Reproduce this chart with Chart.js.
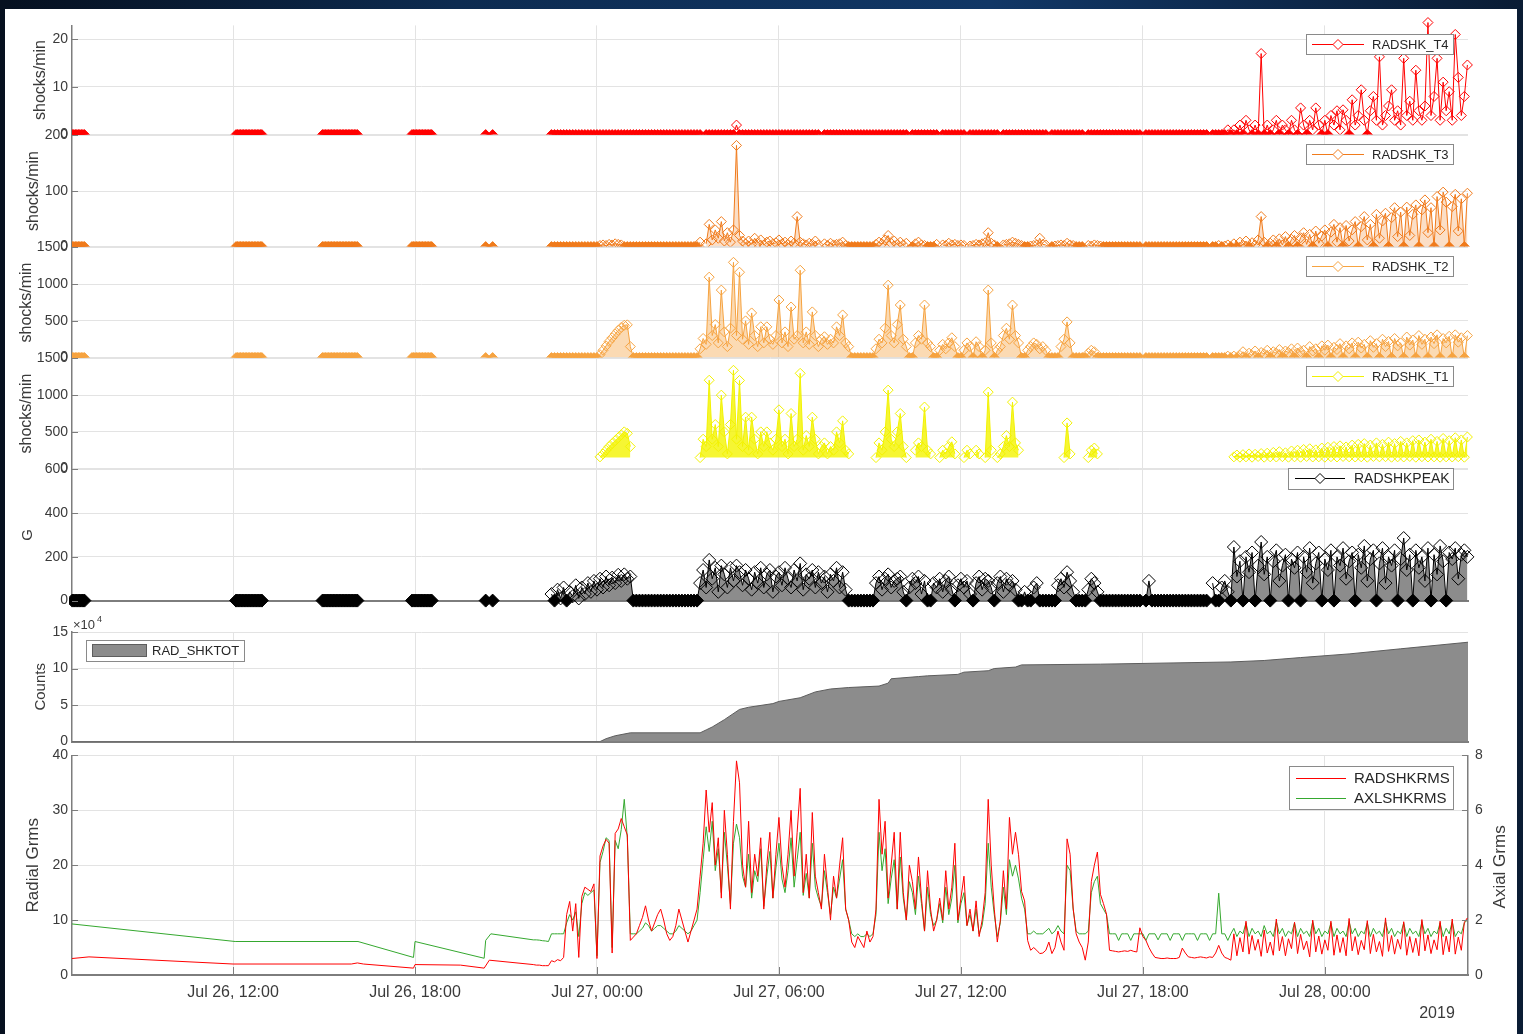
<!DOCTYPE html>
<html>
<head>
<meta charset="utf-8">
<script src="https://cdn.jsdelivr.net/npm/chart.js@4.4.0/dist/chart.umd.min.js"></script>
<style>
  html, body { margin: 0; padding: 0; width: 1523px; height: 1034px; overflow: hidden;
    background: linear-gradient(to right, #06101f 0%, #0d2b50 30%, #113766 65%, #0a1c34 100%); }
  #sheet { position: absolute; left: 5px; top: 9px; width: 1512px; height: 1025px; background: #fff; }
  canvas { position: absolute; left: 0; }
</style>
</head>
<body>
<div id="sheet"></div>
<canvas id="p1"></canvas>
<canvas id="p2"></canvas>
<canvas id="p3"></canvas>
<canvas id="p4"></canvas>
<canvas id="p5"></canvas>
<canvas id="p6"></canvas>
<canvas id="p7"></canvas>
<script>
const _ = null;

// time axis in hours counted from Jul 26, 00:00
const X_MIN = 6.69, X_MAX = 52.72;
const tickHours = [12, 18, 24, 30, 36, 42, 48];
const tickLabels = ['Jul 26, 12:00', 'Jul 26, 18:00', 'Jul 27, 00:00', 'Jul 27, 06:00',
                    'Jul 27, 12:00', 'Jul 27, 18:00', 'Jul 28, 00:00'];

const t4Ticks = [0, 10, 20];
const t3Ticks = [0, 100, 200];
const t2Ticks = [0, 500, 1000, 1500];
const t1Ticks = [0, 500, 1000, 1500];
const peakTicks = [0, 200, 400, 600];
const totTicks = [0, 50000, 100000, 150000];
const radTicks = [0, 10, 20, 30, 40];
const axlTicks = [0, 2, 4, 6, 8];

// short logging windows on Jul 26 where every shock channel reads zero
const idleRuns = [
  [6.7, 6.75, 6.8, 6.85, 6.9, 6.95, 7, 7.05, 7.1],
  [12.1, 12.15, 12.2, 12.25, 12.3, 12.35, 12.4, 12.45, 12.5, 12.55, 12.6, 12.65, 12.7, 12.75, 12.8, 12.85, 12.9, 12.95],
  [14.95, 15, 15.05, 15.1, 15.15, 15.2, 15.25, 15.3, 15.35, 15.4, 15.45, 15.5, 15.55, 15.6, 15.65, 15.7, 15.75, 15.8, 15.85, 15.9, 15.95, 16, 16.05, 16.1],
  [17.9, 17.95, 18, 18.05, 18.1, 18.15, 18.2, 18.25, 18.3, 18.35, 18.4, 18.45, 18.5, 18.55],
  [20.33, 20.56]
];

// continuous logging from 22:00 on, one sample every 0.1 h (one row per hour)
const GRID_START = 22.0, GRID_STEP = 0.1;

const t4Values = [
  _,_,_,_,_,0,0,0,0,0,
  0,0,0,0,0,0,0,0,0,0,
  0,0,0,0,0,0,0,0,0,0,
  0,0,0,0,0,0,0,0,0,0,
  0,0,0,0,0,0,0,0,0,0,
  0,0,0,0,0,_,0,0,0,0,
  0,0,0,0,0,0,2,0,0,0,
  0,0,0,0,0,0,0,0,0,0,
  0,0,0,0,0,0,0,0,0,0,
  0,0,0,0,_,0,0,0,0,0,
  0,0,0,0,0,0,0,0,0,0,
  0,0,0,0,0,0,0,0,0,0,
  0,0,0,_,0,0,0,0,0,0,
  0,0,0,_,0,0,0,0,0,0,
  0,0,_,0,0,0,0,0,0,0,
  0,0,0,_,0,0,0,0,0,0,
  0,0,0,0,0,0,0,0,0,_,
  0,0,0,0,0,0,0,0,0,0,
  0,_,0,0,0,0,0,0,0,0,
  0,0,0,0,0,0,0,0,0,0,
  _,0,0,0,0,0,0,0,0,0,
  0,0,0,0,0,0,0,0,0,0,
  0,0,_,0,0,0,0,0,1,0,
  1,0,2,0,3,1,0,2,0,17,
  0,2,0,1,3,0,2,1,0,3,
  1,0,5.6,2,0,3,1,5.6,2,0,
  3,0,4,2,5,1,5.2,3,0,7.3,
  2,4,9.4,3,0,5,8,3,16.3,2,
  4,6,9.4,3,5,2,16,4,7,3,
  13.5,5,3,6,23.5,4,8,16,3,11,
  5,9,3,21,12,4,8,14.6
];

const t3Values = [
  _,_,_,_,_,0,0,0,0,0,
  0,0,0,0,0,0,0,0,0,0,
  0,2,3,2,4,3,5,4,3,0,
  0,0,0,0,0,0,0,0,0,0,
  0,0,0,0,0,0,0,0,0,0,
  0,0,0,0,8,_,5,40,12,30,
  15,45,10,25,8,30,182,20,10,5,
  10,4,15,6,12,3,8,10,5,7,
  12,5,8,4,10,6,54,8,5,3,
  6,4,10,3,_,5,2,6,3,4,
  5,8,2,0,0,0,0,0,0,0,
  0,0,4,8,5,12,20,6,10,4,
  8,3,6,_,0,5,8,3,2,0,
  0,0,4,_,3,2,6,3,4,2,
  3,2,_,1,2,4,3,5,7,25,
  6,3,0,_,3,4,5,8,6,4,
  2,0,0,1,2,3,15,4,3,_,
  0,1,2,3,2,6,3,2,0,0,
  0,_,2,1,3,2,1,0,0,0,
  0,0,0,0,0,0,0,0,0,0,
  _,0,0,0,0,0,0,0,0,0,
  0,0,0,0,0,0,0,0,0,0,
  0,0,_,0,0,2,0,1,3,0,
  5,0,8,2,10,0,7,3,12,54,
  8,0,6,12,0,14,3,18,0,13,
  20,0,16,25,4,22,0,28,6,19,
  30,0,26,40,8,34,0,38,10,30,
  45,0,36,54,12,40,0,58,15,46,
  60,0,52,70,18,62,0,71,20,58,
  75,0,66,84,25,70,0,90,30,98,
  80,0,72,94,28,86,0,96
];

const t2Values = [
  _,_,_,_,_,0,0,0,0,0,
  0,0,0,0,0,0,0,0,0,0,
  0,40,100,160,220,270,320,370,410,440,
  446,150,0,0,0,0,0,0,0,0,
  0,0,0,0,0,0,0,0,0,0,
  0,0,0,0,120,260,180,1095,300,450,
  200,919,350,150,400,1297,300,1162,250,500,
  180,608,300,150,420,200,419,250,180,300,
  784,200,350,150,689,250,300,1189,200,350,
  180,622,300,150,250,284,180,250,200,419,
  300,581,200,150,0,0,0,0,0,0,
  0,0,120,250,200,400,986,300,200,450,
  716,250,150,0,0,200,300,250,716,200,
  150,0,0,100,180,120,200,270,150,0,
  0,100,200,150,0,216,150,0,100,919,
  200,0,100,150,300,400,250,716,300,200,
  0,0,100,150,200,180,120,150,100,0,
  0,0,0,150,250,486,200,0,0,0,
  0,0,60,100,80,0,0,0,0,0,
  0,0,0,0,0,0,0,0,0,0,
  _,0,0,0,0,0,0,0,0,0,
  0,0,0,0,0,0,0,0,0,0,
  0,0,_,0,0,0,0,0,20,0,
  20,0,30,80,0,60,30,90,0,70,
  50,100,0,80,60,110,0,90,70,120,
  0,130,80,100,0,150,90,120,0,160,
  100,170,0,140,110,190,0,160,120,200,
  0,210,130,180,0,230,140,190,0,250,
  150,220,0,260,160,200,0,280,170,240,
  0,300,180,250,0,280,190,310,0,260,
  200,290,0,310,210,270,0,300
];

const t1Values = [
  _,_,_,_,_,_,_,_,_,_,
  _,_,_,_,_,_,_,_,_,_,
  _,160,200,250,300,340,380,420,460,500,
  480,300,_,_,_,_,_,_,_,_,
  _,_,_,_,_,_,_,_,_,_,
  _,_,_,_,150,400,300,1203,400,600,
  300,1000,500,200,600,1338,400,1200,300,700,
  250,700,400,200,500,300,500,350,250,400,
  800,300,400,200,750,300,400,1297,250,450,
  300,700,400,200,300,350,200,300,250,500,
  350,650,250,200,_,_,_,_,_,_,
  _,_,150,350,250,500,1068,400,300,500,
  750,300,150,_,_,250,350,300,838,250,
  200,_,_,150,250,200,300,365,200,_,
  _,150,250,200,_,250,200,_,150,1041,
  250,_,150,200,300,450,300,905,350,250,
  _,_,_,_,_,_,_,_,_,_,
  _,_,_,_,150,622,200,_,_,_,
  _,_,150,250,280,200,_,_,_,_,
  _,_,_,_,_,_,_,_,_,_,
  _,_,_,_,_,_,_,_,_,_,
  _,_,_,_,_,_,_,_,_,_,
  _,_,_,_,_,_,_,_,_,_,
  160,185,155,190,160,200,155,195,165,205,
  155,210,160,220,158,230,162,215,155,240,
  160,250,155,260,165,270,158,255,160,280,
  155,290,162,300,158,310,165,295,160,320,
  158,330,160,340,155,320,165,350,160,330,
  162,360,155,340,160,370,158,350,165,380,
  155,390,162,360,158,400,160,370,155,410,
  160,380,158,420,162,390,155,430
];

const peakValues = [
  _,_,_,_,_,30,0,50,10,60,
  0,40,20,70,10,60,30,80,40,90,
  50,100,60,110,70,105,80,118,90,120,
  100,110,0,0,0,0,0,0,0,0,
  0,0,0,0,0,0,0,0,0,0,
  0,0,0,0,80,140,60,186,100,150,
  40,160,120,60,150,90,160,130,70,140,
  100,50,130,80,150,60,120,140,40,110,
  130,70,150,100,60,140,90,170,50,120,
  100,140,60,130,80,110,40,120,90,150,
  60,130,50,0,0,0,0,0,0,0,
  0,0,80,110,50,100,120,60,90,100,
  110,40,0,60,100,80,110,30,90,0,
  0,80,60,100,40,90,110,50,0,70,
  100,60,90,30,0,80,110,50,100,90,
  60,0,80,110,40,100,70,90,50,0,
  0,40,0,0,60,80,0,0,0,0,
  0,0,70,100,60,130,90,40,0,0,
  0,0,50,100,80,40,0,0,0,0,
  0,0,0,0,0,0,0,0,0,0,
  _,0,90,0,0,0,0,0,0,0,
  0,0,0,0,0,0,0,0,0,0,
  0,0,_,80,0,0,60,90,40,0,
  245,110,180,0,200,130,220,0,160,268,
  120,200,0,180,230,90,160,210,0,190,
  150,220,0,200,130,240,80,170,220,0,
  190,140,230,0,200,160,240,100,180,220,
  0,210,150,250,90,190,230,0,170,240,
  80,200,160,230,0,190,286,140,210,0,
  230,150,200,90,240,0,210,120,250,180,
  0,220,190,240,100,210,230,200
];

// running shock total (counts)
const totHours = [6.69, 24.1, 24.3, 24.6, 25.1, 27.4, 27.6, 27.8, 28.2, 28.7, 29.0, 29.8, 30.0, 30.7, 31.2,
                  31.7, 32.3, 33.3, 33.6, 33.7, 34.6, 34.9, 35.9, 36.1, 36.9, 37.1, 37.8, 38.0, 40.6, 44.9,
                  46.0, 47.2, 48.8, 50.5, 52.72];
const totCounts = [0, 0, 4000, 8000, 12000, 12000, 16000, 20000, 30000, 44000, 47000, 52000, 55000, 60000, 68000,
                   72000, 74000, 76000, 80000, 86000, 89000, 90000, 92000, 95000, 97000, 100000, 102000, 105000, 106000, 109000,
                   111000, 115000, 120000, 127000, 136000];

// RMS levels before continuous logging starts
const radEarlyHours = [6.69, 7.25, 12.0, 15.9, 16.1, 16.3, 17.95, 18.0, 19.5, 20.28, 20.45, 21.9];
const radEarly = [3.0, 3.3, 2.0, 2.0, 2.2, 2.0, 1.25, 1.9, 1.8, 1.25, 2.7, 1.9];
const axlEarlyHours = [6.69, 12.07, 16.12, 17.95, 18.0, 20.28, 20.33, 20.5, 21.9];
const axlEarly = [1.86, 1.22, 1.22, 0.64, 1.22, 0.61, 1.26, 1.5, 1.28];

const radValues = [
  1.8,1.8,1.7,1.7,1.7,2.6,2.4,2.8,2.6,3.2,
  11,13.4,8,13,3.2,14.3,16,15.6,15.2,16.6,
  3,21.7,23.5,24.7,24,4,25.8,26.6,28.5,27,
  25.5,6.3,6.9,7.5,9,10.5,12.6,10,8,9.5,
  11,12,10,7.5,6.3,7,9,12,10,8,
  6,8,10,12,18,24,33.7,26,31.4,20,
  25,14,30,22,12,28,39,35,20,16,
  28,15,22,18,25,12,20,26,14,22,
  28.7,20,16,22,30,18,26,34,15,22,
  14,29.6,18,15,12,22,16,10,18,14,
  20,25,12,10,6,5,7,6,5,8,
  6,7,12,32,22,28,14,20,26,12,
  26,15,10,20,17,12,21.5,14,8,19,
  12,8,10,14,10,19,12,16,24,10,
  14,18,9,12,8,13.5,7,10,15,32,
  20,12,6,10,19,12,28.7,22,26,21.9,
  15.2,13.5,6.3,4.5,5,4.5,3.9,4,4.5,6,
  3.9,5,8,6,4.5,24.8,22,12.2,7.5,6,
  5,2.7,6,17,20,22.4,14.7,13,11.1,4.5,
  4.4,4.3,4.2,4.3,4.4,4.3,4.5,4.3,4.2,8.6,
  7,6.3,5,4,3.2,3.1,3,3,3.1,3,
  3,3,3.2,4.9,4,3.3,3.2,3.1,3.2,3.3,
  3.2,3.1,3.3,3.2,4,5.4,4,3.2,3,2.7,
  7.5,3.5,6.8,4.2,9.8,3.8,7.2,4.5,6.5,3.4,
  8.2,4,6,3.6,10.2,4.4,7,3.5,6.6,4.8,
  9.6,3.9,7.4,4.6,6.2,3.3,10,4.2,7.1,3.8,
  6.4,4.5,9.8,3.6,7.3,4.1,6.8,3.5,10.3,4.4,
  7,3.7,6.3,4.6,9.9,3.9,7.4,4.2,6.1,3.4,
  10.4,4.3,7.2,3.8,6.5,4.7,9.7,3.6,7,4.1,
  6.7,3.5,10.1,4.4,7.3,3.9,6.4,4.6,9.8,3.7,
  7.1,4.2,10.2,3.8,6.9,4.5,9.6,10.4
];

const axlValues = [
  1.28,1.27,1.25,1.24,1.22,1.5,1.5,1.5,1.5,1.5,
  1.9,2.2,2.0,2.3,1.4,2.6,3.0,2.9,3.0,3.1,
  0.7,4.1,4.5,5.0,4.9,1.0,4.9,4.6,5.3,6.4,
  5.0,1.5,1.5,1.5,1.6,1.7,1.9,1.8,1.6,1.7,
  1.8,1.8,1.7,1.6,1.5,1.5,1.6,1.8,1.7,1.6,
  1.5,1.6,1.8,2.0,3.0,4.2,5.4,4.5,5.6,3.8,
  4.6,3.0,5.2,4.0,2.6,4.8,5.5,5.0,3.6,3.2,
  4.4,2.8,3.8,3.4,4.6,2.5,3.6,4.5,2.8,3.9,
  4.8,3.5,3.0,3.8,5.0,3.2,4.2,5.2,2.9,3.7,
  2.8,4.8,3.2,2.8,2.5,3.8,3.0,2.2,3.2,2.8,
  3.5,4.2,2.4,2.0,1.5,1.4,1.5,1.4,1.4,1.5,
  1.4,1.5,2.2,5.2,3.8,4.6,2.6,3.5,4.2,2.4,
  4.3,2.8,2.0,3.4,3.0,2.2,3.6,2.6,1.6,3.2,
  2.2,1.8,2.0,2.6,1.9,3.2,2.2,2.8,4.0,1.9,
  2.6,3.0,1.8,2.2,1.6,2.4,1.5,1.8,2.6,4.8,
  3.2,2.2,1.4,1.9,3.2,2.2,4.2,3.6,4.0,3.5,
  2.8,2.4,1.5,1.5,1.6,1.5,1.5,1.5,1.6,1.7,
  1.5,1.6,1.8,1.6,1.5,4.0,3.8,2.4,1.6,1.5,
  1.5,1.5,1.6,3.0,3.4,3.6,2.6,2.4,2.2,1.5,
  1.5,1.5,1.26,1.5,1.5,1.5,1.26,1.5,1.5,1.5,
  1.5,1.26,1.5,1.5,1.5,1.28,1.5,1.5,1.5,1.26,
  1.5,1.5,1.5,1.26,1.5,1.5,1.5,1.5,1.26,1.5,
  1.5,1.5,1.26,1.5,1.5,2.98,1.5,1.5,1.26,1.5,
  1.7,1.4,1.6,1.5,1.9,1.4,1.7,1.5,1.6,1.4,
  1.8,1.5,1.6,1.4,1.95,1.5,1.7,1.4,1.6,1.5,
  1.9,1.4,1.7,1.5,1.6,1.4,1.95,1.5,1.7,1.4,
  1.6,1.5,1.9,1.4,1.7,1.5,1.6,1.4,1.95,1.5,
  1.7,1.4,1.6,1.5,1.9,1.4,1.7,1.5,1.6,1.4,
  1.95,1.5,1.7,1.4,1.6,1.5,1.9,1.4,1.7,1.5,
  1.6,1.4,1.95,1.5,1.7,1.4,1.6,1.5,1.9,1.4,
  1.7,1.5,1.95,1.4,1.6,1.5,1.9,2.0
];

const FONT = '"Liberation Sans", Arial, sans-serif';
const TXT = '#3a3a3a';
const GRID = '#e3e3e3';
const AXIS = '#7d7d7d';

function gridPoints(values) {
  return values.map((v, i) => ({ x: +(GRID_START + i * GRID_STEP).toFixed(2), y: v }));
}

function pairPoints(hours, values) {
  return hours.map((h, i) => ({ x: h, y: values[i] }));
}

function idlePoints() {
  const pts = [];
  idleRuns.forEach(run => {
    run.forEach(h => pts.push({ x: h, y: 0 }));
    pts.push({ x: run[run.length - 1] + 0.02, y: null });
  });
  return pts;
}

// hollow diamonds; the long zero stretches are so dense they read as solid
function markerSeries(label, color, points, r, clip, shade) {
  const ds = {
    label, data: points, yAxisID: 'y',
    borderColor: color, borderWidth: 1, tension: 0, spanGaps: false,
    pointStyle: 'rectRot', pointRadius: r, pointBorderColor: color, pointBorderWidth: 1,
    pointBackgroundColor: ctx => (ctx.raw && ctx.raw.y === 0) ? color : 'rgba(255,255,255,0)',
    clip
  };
  if (shade) {
    ds.fill = shade.fill;
    ds.backgroundColor = shade.color;
  }
  return ds;
}

function diamond(ctx, x, y, r) {
  ctx.beginPath();
  ctx.moveTo(x - r, y); ctx.lineTo(x, y - r); ctx.lineTo(x + r, y); ctx.lineTo(x, y + r);
  ctx.closePath();
}

// boxed legend placed inside the plot area
function boxLegend(box) {
  return {
    id: 'boxLegend',
    afterDatasetsDraw(chart) {
      const { ctx, chartArea: a } = chart;
      const x0 = Math.round(box.fromRight != null ? a.right - box.fromRight - box.w : a.left + box.fromLeft);
      const y0 = Math.round(a.top + box.top);
      ctx.save();
      ctx.fillStyle = '#fff';
      ctx.fillRect(x0, y0, box.w, box.h);
      ctx.strokeStyle = '#8a8a8a';
      ctx.lineWidth = 1;
      ctx.strokeRect(x0 + 0.5, y0 + 0.5, box.w, box.h);
      ctx.font = box.size + 'px ' + FONT;
      ctx.textBaseline = 'middle';
      box.rows.forEach(row => {
        const ds = chart.data.datasets[row.ds];
        const cy = y0 + row.y;
        if (box.patch) {
          ctx.fillStyle = ds.backgroundColor;
          ctx.fillRect(x0 + box.l0, cy - 6, box.l1 - box.l0, 12);
          ctx.strokeStyle = ds.borderColor;
          ctx.strokeRect(x0 + box.l0 + 0.5, cy - 5.5, box.l1 - box.l0, 12);
        } else {
          ctx.strokeStyle = ds.borderColor;
          ctx.lineWidth = 1;
          ctx.beginPath();
          ctx.moveTo(x0 + box.l0, cy + 0.5);
          ctx.lineTo(x0 + box.l1, cy + 0.5);
          ctx.stroke();
          if (box.marker) {
            diamond(ctx, x0 + (box.l0 + box.l1) / 2, cy + 0.5, 5);
            ctx.fillStyle = '#fff';
            ctx.fill();
            ctx.stroke();
          }
        }
        ctx.fillStyle = '#262626';
        ctx.fillText(ds.label, x0 + box.tx, cy + 1);
      });
      ctx.restore();
    }
  };
}

// free text: exponent, year, right-hand axis title
function notes(items) {
  return {
    id: 'notes',
    afterDraw(chart) {
      const { ctx, chartArea: a } = chart;
      items.forEach(n => {
        ctx.save();
        ctx.font = n.size + 'px ' + FONT;
        ctx.fillStyle = TXT;
        ctx.textAlign = n.align || 'left';
        ctx.textBaseline = 'middle';
        ctx.translate((n.fromRight ? a.right : a.left) + n.dx, (n.fromBottom ? a.bottom : a.top) + n.dy);
        if (n.rotate) ctx.rotate(n.rotate);
        ctx.fillText(n.text, 0, 0);
        ctx.restore();
      });
    }
  };
}

// tick marks pointing into the plot, as on the original axes
const inwardTicks = {
  id: 'inwardTicks',
  afterDraw(chart) {
    const { ctx, chartArea: a, scales } = chart;
    ctx.save();
    ctx.strokeStyle = AXIS;
    ctx.lineWidth = 1;
    Object.values(scales).forEach(s => {
      if (s.axis === 'y') {
        const left = s.position === 'left';
        s.ticks.forEach(t => {
          const py = Math.round(s.getPixelForValue(t.value)) + 0.5;
          ctx.beginPath();
          ctx.moveTo(left ? a.left : a.right, py);
          ctx.lineTo(left ? a.left + 6 : a.right - 6, py);
          ctx.stroke();
        });
      } else if (s.options.ticks.display) {
        s.ticks.forEach(t => {
          const px = Math.round(s.getPixelForValue(t.value)) + 0.5;
          ctx.beginPath();
          ctx.moveTo(px, a.bottom);
          ctx.lineTo(px, a.bottom - 8);
          ctx.stroke();
        });
      }
    });
    ctx.restore();
  }
};

function xAxis(showLabels, showBorder) {
  return {
    type: 'linear', min: X_MIN, max: X_MAX,
    afterBuildTicks: s => { s.ticks = tickHours.map(v => ({ value: v })); },
    grid: { color: GRID, drawTicks: false },
    border: { display: showBorder, color: AXIS, width: 2 },
    ticks: {
      display: showLabels, autoSkip: false, maxRotation: 0, padding: 8,
      color: TXT, font: { family: FONT, size: 16 },
      callback: v => tickLabels[tickHours.indexOf(v)]
    },
    afterFit: s => { s.height = showLabels ? 30 : 0; }
  };
}

function yAxis(min, max, ticks, title, titleSize, titlePad, fmt) {
  return {
    position: 'left', min, max,
    afterBuildTicks: s => { s.ticks = ticks.map(v => ({ value: v })); },
    grid: { color: GRID, drawTicks: false },
    border: { color: AXIS, width: 1.5 },
    ticks: { padding: 4, color: TXT, font: { family: FONT, size: 14 }, callback: fmt || (v => v) },
    title: { display: true, text: title, color: TXT, font: { family: FONT, size: titleSize },
             padding: { top: titlePad, bottom: 0 } },
    afterFit: s => { s.width = 72; }
  };
}

function panel(id, areaTop, areaBottom, datasets, scales, o) {
  const padTop = o.padTop || 12;
  const xh = o.xLabels ? 30 : 0;
  const padBottom = o.padBottom || 12;
  const c = document.getElementById(id);
  c.width = 1523;
  c.height = (areaBottom - areaTop) + padTop + xh + padBottom;
  c.style.top = (areaTop - padTop) + 'px';
  return new Chart(c, {
    type: 'line',
    data: { datasets },
    options: {
      responsive: false, animation: false, events: [],
      layout: { padding: { left: 0, right: o.rightAxis ? 0 : 55, top: padTop, bottom: padBottom } },
      plugins: { legend: { display: false }, tooltip: { enabled: false } },
      scales: Object.assign({ x: xAxis(!!o.xLabels, !!o.xBorder) }, scales)
    },
    plugins: [inwardTicks, boxLegend(o.legend), notes(o.notes || [])]
  });
}

const clipT = { left: 0, top: 12, right: 8, bottom: 0 };
const tLegend = { fromRight: 15, top: 9, w: 147, h: 20, size: 13, l0: 6, l1: 58, tx: 66, marker: true, rows: [{ ds: 0, y: 10 }] };

panel('p1', 25, 135,
  [markerSeries('RADSHK_T4', '#ff0000', idlePoints().concat(gridPoints(t4Values)), 5, clipT)],
  { y: yAxis(0, 22.9, t4Ticks, 'shocks/min', 16, 31) },
  { legend: tLegend });

panel('p2', 135, 247,
  [markerSeries('RADSHK_T3', '#f07b1c', idlePoints().concat(gridPoints(t3Values)), 5, clipT,
                { fill: 'origin', color: 'rgba(240,123,28,0.25)' })],
  { y: yAxis(0, 200, t3Ticks, 'shocks/min', 16, 24) },
  { legend: tLegend });

panel('p3', 247, 358,
  [markerSeries('RADSHK_T2', '#f6a340', idlePoints().concat(gridPoints(t2Values)), 5, clipT,
                { fill: 'origin', color: 'rgba(246,163,64,0.4)' })],
  { y: yAxis(0, 1500, t2Ticks, 'shocks/min', 16, 17) },
  { legend: tLegend });

panel('p4', 358, 469,
  [markerSeries('RADSHK_T1', '#f2f200', gridPoints(t1Values), 5, clipT,
                { fill: { value: 150 }, color: 'rgba(244,244,0,0.8)' })],
  { y: yAxis(0, 1500, t1Ticks, 'shocks/min', 16, 17) },
  { legend: Object.assign({}, tLegend, { top: 8 }) });

panel('p5', 469, 601,
  [markerSeries('RADSHKPEAK', '#000000', idlePoints().concat(gridPoints(peakValues)), 6.5,
                { left: 3, top: 8, right: 8, bottom: 10 },
                { fill: 'origin', color: 'rgba(0,0,0,0.45)' })],
  { y: yAxis(0, 600, peakTicks, 'G', 15, 19) },
  { xBorder: true,
    legend: { fromRight: 15, top: -1, w: 165, h: 21, size: 14, l0: 7, l1: 57, tx: 66, marker: true, rows: [{ ds: 0, y: 10 }] } });

panel('p6', 632, 742,
  [{ label: 'RAD_SHKTOT', data: pairPoints(totHours, totCounts), yAxisID: 'y',
     borderColor: '#5e5e5e', borderWidth: 1, backgroundColor: '#8c8c8c', fill: 'origin',
     pointRadius: 0, tension: 0 }],
  { y: yAxis(0, 150000, totTicks, 'Counts', 15, 32, v => v / 10000) },
  { xBorder: true, padTop: 22,
    legend: { fromLeft: 14, top: 8, w: 158, h: 21, size: 13, l0: 6, l1: 60, tx: 66, patch: true, rows: [{ ds: 0, y: 10 }] },
    notes: [{ text: '\u00d710', size: 13, dx: 1, dy: -7 }, { text: '4', size: 9, dx: 25, dy: -12 }] });

const radAxis = yAxis(0, 40, radTicks, 'Radial Grms', 17, 23);
const axlAxis = {
  position: 'right', min: 0, max: 8,
  afterBuildTicks: s => { s.ticks = axlTicks.map(v => ({ value: v })); },
  grid: { display: false, drawTicks: false },
  border: { color: AXIS, width: 1.5 },
  ticks: { padding: 7, color: TXT, font: { family: FONT, size: 14 } },
  afterFit: s => { s.width = 55; }
};

panel('p7', 752, 975,
  [
    { label: 'RADSHKRMS', data: pairPoints(radEarlyHours, radEarly).concat(gridPoints(radValues)), yAxisID: 'y',
      borderColor: '#ff0000', borderWidth: 1, pointRadius: 0, tension: 0 },
    { label: 'AXLSHKRMS', data: pairPoints(axlEarlyHours, axlEarly).concat(gridPoints(axlValues)), yAxisID: 'y2',
      borderColor: '#35a82f', borderWidth: 1, pointRadius: 0, tension: 0 }
  ],
  { y: radAxis, y2: axlAxis },
  { xLabels: true, xBorder: true, rightAxis: true, padBottom: 24,
    legend: { fromRight: 15, top: 11, w: 164, h: 43, size: 15, l0: 7, l1: 57, tx: 65, rows: [{ ds: 0, y: 12 }, { ds: 1, y: 32 }] },
    notes: [
      { text: '2019', size: 16, align: 'center', fromRight: true, fromBottom: true, dx: -31, dy: 39 },
      { text: 'Axial Grms', size: 17, align: 'center', fromRight: true, dx: 32, dy: 111.5, rotate: -Math.PI / 2 }
    ] });
</script>
</body>
</html>
